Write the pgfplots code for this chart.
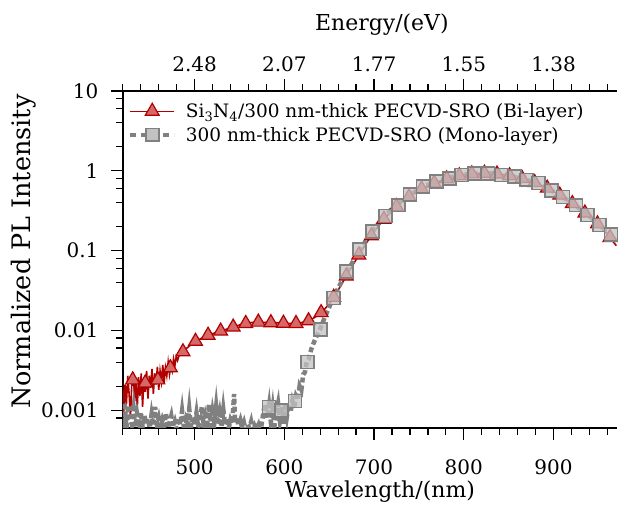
\documentclass[border=0pt]{standalone}
\usepackage{fontspec}
\setmainfont{DejaVu Serif}
\usepackage{pgfplots}
\usepackage{pgfplotstable}
\pgfplotsset{compat=1.18}

\definecolor{rdark}{RGB}{176,0,0}
\definecolor{rfill}{RGB}{214,104,104}
\definecolor{gline}{RGB}{128,128,128}
\definecolor{gfill}{RGB}{194,194,194}
\newcommand\lfs{\fontsize{22}{26}\selectfont}
\newcommand\yfs{\fontsize{25.5}{30}\selectfont}
\newcommand\tfs{\fontsize{20}{24}\selectfont}
\newcommand\gfs{\fontsize{18.5}{22}\selectfont}

% bi-layer: noisy start, then plateau and the main band
\pgfplotstableread{
x y
418 0.0014
419.5 0.0024
421 0.0009
422.5 0.0021
424 0.0012
425.5 0.0027
427 0.0016
428.5 0.0008
430 0.0022
431.5 0.0030
433 0.0013
434.5 0.0024
436 0.0010
437.5 0.0026
439 0.0015
440.5 0.0029
442 0.0011
443.5 0.0025
445 0.0017
446.5 0.0031
448 0.0014
449.5 0.0027
451 0.0019
452.5 0.0033
454 0.0016
455.5 0.0029
457 0.0021
458.5 0.0035
460 0.0018
461.5 0.0031
463 0.0023
464.5 0.0037
466 0.0022
467.5 0.0034
469 0.0027
470.5 0.0040
472 0.0028
473.5 0.0036
475 0.0031
476.5 0.0044
478 0.0036
479.5 0.0047
481 0.0042
483 0.0050
486 0.0053
490 0.0058
495 0.0065
500 0.0071
505 0.0077
510 0.0082
515 0.0087
520 0.0091
525 0.0095
530 0.0099
535 0.0103
540 0.0108
545 0.0112
550 0.0117
555 0.0121
560 0.0124
565 0.0126
570 0.0127
575 0.0126
580 0.0126
585 0.0125
590 0.0125
595 0.0124
600 0.0123
605 0.0122
610 0.0122
615 0.0123
620 0.0126
625 0.0130
630 0.0137
635 0.0148
640 0.0163
645 0.0185
650 0.0215
655 0.026
660 0.032
665 0.040
670 0.050
675 0.062
680 0.077
685 0.095
690 0.117
695 0.143
700 0.172
710 0.240
720 0.315
730 0.395
740 0.480
750 0.565
760 0.645
770 0.720
780 0.785
790 0.840
800 0.885
810 0.915
820 0.930
830 0.925
840 0.905
850 0.870
860 0.825
870 0.770
880 0.705
890 0.630
900 0.550
910 0.470
920 0.395
930 0.325
940 0.265
950 0.210
960 0.160
970 0.115
}\redline

\pgfplotstableread{
x y
431 0.0024
445 0.0022
459 0.0024
473 0.0034
487 0.0054
501 0.0073
515 0.0087
529 0.0098
543 0.0110
557 0.0122
571 0.0127
585 0.0125
599 0.0123
613 0.0122
627 0.0132
641 0.0167
655 0.026
669 0.048
683 0.088
697 0.153
711 0.247
725 0.355
739 0.470
753 0.590
767 0.700
781 0.790
795 0.865
809 0.913
823 0.930
837 0.910
851 0.865
865 0.800
879 0.710
893 0.605
907 0.495
921 0.388
935 0.295
949 0.216
963 0.146
}\redmarks

% mono-layer: noise floor below 610 nm
\pgfplotstableread{
x y
418 0.00100
420 0.00072
422 0.00125
424 0.00060
426 0.00115
428 0.00082
430 0.00066
432 0.00105
434 0.00062
436 0.00090
438 0.00070
440 0.00095
442 0.00062
444 0.00085
446 0.00068
448 0.00078
450 0.00060
452 0.00088
454 0.00064
456 0.00110
458 0.00066
460 0.00080
462 0.00061
464 0.00075
466 0.00063
468 0.00092
470 0.00060
472 0.00070
474 0.00085
476 0.00062
478 0.00072
480 0.00058
482 0.00080
484 0.00066
486 0.00098
488 0.00062
490 0.00076
492 0.00064
494 0.00104
496 0.00062
498 0.00082
500 0.00066
502 0.00092
504 0.00060
506 0.00074
508 0.00110
510 0.00064
512 0.00085
514 0.00068
516 0.00118
518 0.00063
520 0.00095
522 0.00070
524 0.00112
526 0.00066
528 0.00090
530 0.00062
532 0.00102
534 0.00066
536 0.00080
538 0.00060
540 0.00076
542 0.00068
544 0.00160
545 0.00070
547 0.00082
549 0.00064
551 0.00075
553 0.00060
555 0.00070
557 0.00056
559 0.00066
561 0.00060
563 0.00072
565 0.00055
567 0.00064
569 0.00058
571 0.00065
573 0.00052
575 0.00070
577 0.00100
579 0.00120
581 0.00080
583 0.00115
585 0.00070
587 0.00105
589 0.00064
591 0.00095
593 0.00122
595 0.00075
597 0.00110
599 0.00068
601 0.00125
603 0.00085
605 0.00118
607 0.00095
609 0.00130
611 0.00110
613 0.00150
615 0.00135
617 0.00200
619 0.00180
621 0.00280
623 0.00300
625 0.00400
627 0.00430
630 0.0058
633 0.0071
636 0.0085
640 0.0105
645 0.0145
650 0.0195
655 0.026
660 0.034
665 0.043
670 0.055
675 0.068
680 0.085
685 0.105
690 0.128
695 0.155
700 0.185
710 0.260
720 0.335
730 0.415
740 0.500
750 0.585
760 0.665
770 0.735
780 0.800
790 0.855
800 0.895
810 0.925
820 0.935
830 0.930
840 0.905
850 0.870
860 0.825
870 0.770
880 0.705
890 0.625
900 0.545
910 0.470
920 0.400
930 0.330
940 0.270
950 0.215
960 0.170
970 0.130
}\grayline

\pgfplotstableread{
x y
583 0.0011
597 0.0010
612 0.0013
626 0.0040
640 0.0102
654.5 0.0254
669 0.0546
683.5 0.104
698 0.173
712.5 0.272
727 0.370
740 0.500
754.5 0.630
769.5 0.730
784 0.800
797.5 0.880
812 0.930
827 0.930
842 0.880
856.5 0.840
870 0.770
883 0.700
897.5 0.570
910.5 0.470
925 0.370
938 0.280
951 0.210
964 0.158
}\graymarks

\begin{document}
\begin{tikzpicture}
\pgfplotsset{
  every axis/.append style={
    scale only axis, width=495pt, height=337.5pt,
    xmin=420, xmax=971,
    tick align=outside,
    major tick length=12pt, minor tick length=7pt,
    every tick/.style={black, line width=1.3pt},
    axis line style={line width=1.6pt},
    tick label style={font=\tfs},
    label style={font=\lfs},
    /pgf/number format/assume math mode=true,
    minor xtick={420,440,...,960},
    xtick={500,600,700,800,900},
  },
}
\begin{axis}[
  ymode=log, ymin=6e-4, ymax=10,
  axis x line*=bottom, axis y line*=left,
  ytick={0.001,0.01,0.1,1,10},
  yticklabels={0.001,0.01,0.1,1,10},
  minor ytick={8e-4,2e-3,4e-3,6e-3,8e-3,2e-2,4e-2,6e-2,8e-2,0.2,0.4,0.6,0.8,2,4,6,8},
  xticklabel style={yshift=-16pt},
  yticklabel style={xshift=-9pt},
  xlabel={Wavelength/(nm)},
  ylabel={Normalized PL Intensity},
  xlabel style={at={(axis description cs:0.52,-0.188)}, anchor=center},
  ylabel style={at={(axis description cs:-0.2,0.523)}, anchor=center, font=\yfs},
  legend style={at={(0.005,0.975)}, anchor=north west, draw=none, fill=none,
    font=\gfs, row sep=4pt, column sep=8pt},
  legend cell align=left,
  legend image code/.code={
    \draw[mark repeat=2, mark phase=2, #1] plot coordinates {(0pt,0pt) (22pt,0pt) (44pt,0pt)};},
]
\addlegendimage{rdark, line width=1.5pt, mark=triangle*, mark size=8pt,
  mark options={solid, fill=rfill, draw=rdark, line width=1.2pt}}
\addlegendentry{Si\textsubscript{3}N\textsubscript{4}/300 nm-thick PECVD-SRO (Bi-layer)}
\addlegendimage{gline, line width=3.5pt, dash pattern=on 6pt off 5pt, mark=square*, mark size=6.5pt,
  mark options={solid, fill=gfill, draw=gline, line width=1.6pt}}
\addlegendentry{300 nm-thick PECVD-SRO (Mono-layer)}

\addplot[rdark, line width=1.6pt, forget plot] table {\redline};
\addplot[only marks, mark=triangle*, mark size=8pt, forget plot,
  mark options={fill=rfill, draw=rdark, line width=1.2pt}] table {\redmarks};
\addplot[gline, line width=4.5pt, dash pattern=on 5pt off 3pt, forget plot] table {\grayline};
\addplot[only marks, mark=square*, mark size=6.5pt, forget plot,
  mark options={fill=gfill, draw=gline, line width=1.6pt, fill opacity=0.75}] table {\graymarks};
\coordinate (ll) at (rel axis cs:0,0);
\coordinate (ur) at (rel axis cs:1,1);
\end{axis}

\begin{axis}[
  ymin=0, ymax=1,
  axis x line*=top, axis y line=none,
  xticklabels={2.48,2.07,1.77,1.55,1.38},
  xticklabel style={yshift=3.5pt},
  xlabel={Energy/(eV)},
  xlabel style={at={(axis description cs:0.524,1.196)}, anchor=center},
]
\end{axis}
\path ([xshift=-123pt,yshift=-80pt]ll) rectangle ([yshift=91pt]ur);
\end{tikzpicture}
\end{document}
